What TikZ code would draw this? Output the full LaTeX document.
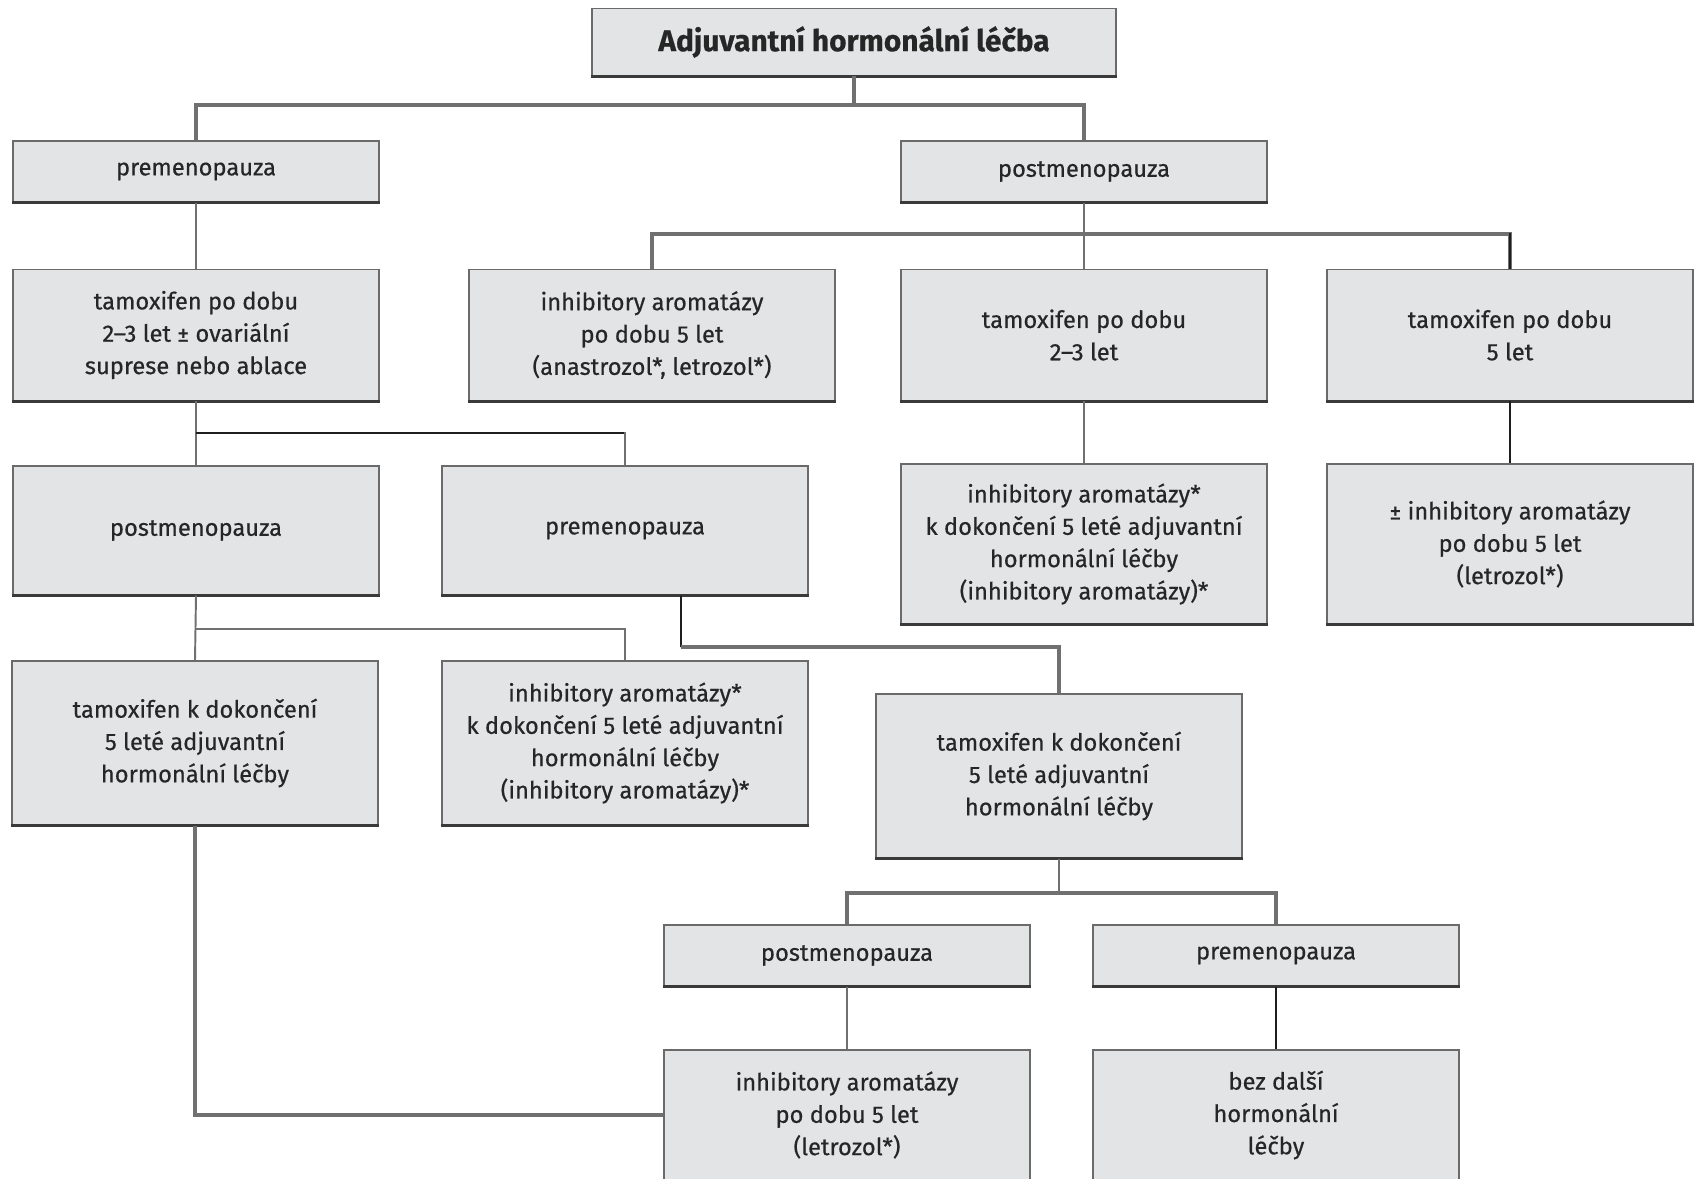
\documentclass[tikz,border=0pt]{standalone}
\usepackage{fontspec}
\setmainfont{Fira Sans}[FakeBold=0.5]
\usetikzlibrary{positioning, calc}
\definecolor{BoxFill}{HTML}{E3E4E6}
\definecolor{BoxLine}{HTML}{6A6A6A}
\definecolor{BoxShade}{HTML}{3A3A3A}
\definecolor{LinkGray}{HTML}{707070}
\definecolor{LinkDark}{HTML}{1E1E1E}
\definecolor{TextDark}{HTML}{262626}
\tikzset{
    stepbox/.style={draw=BoxLine, fill=BoxFill, line width=0.7pt, align=center,
        inner sep=0pt, minimum width=7.32cm, text=TextDark,
        font=\fontsize{13.5}{18.4}\selectfont},
    titlebox/.style={stepbox, minimum width=10.48cm, minimum height=1.34cm,
        font=\fontsize{17}{20}\selectfont\bfseries},
    boxshade/.style={draw=BoxShade, line width=1.8pt},
    link/.style={draw=LinkGray, line width=1.1pt},
    trunk/.style={draw=LinkGray, line width=2.2pt},
    darklink/.style={draw=LinkDark, line width=1.1pt}
}

\begin{document}
\begin{tikzpicture}[x=0.02cm, y=-0.02cm]
    \useasboundingbox (0,0) rectangle (1696,1179);

    % --- boxes ---
    \node[titlebox] (top) at (854,42) {Adjuvantní hormonální léčba};

    \node[stepbox, minimum height=1.22cm] (pre1)  at (196,171.5)  {premenopauza};
    \node[stepbox, minimum height=1.22cm] (post1) at (1084,171.5) {postmenopauza};

    \node[stepbox, minimum height=2.62cm] (tamA)  at (196,335)
        {tamoxifen po dobu\\2–3 let ± ovariální\\suprese nebo ablace};
    \node[stepbox, minimum height=2.62cm] (aiB)   at (652,335)
        {inhibitory aromatázy\\po dobu 5 let\\(anastrozol*, letrozol*)};
    \node[stepbox, minimum height=2.62cm] (tamC)  at (1084,335)
        {tamoxifen po dobu\\2–3 let};
    \node[stepbox, minimum height=2.62cm] (tamD)  at (1510,335)
        {tamoxifen po dobu\\5 let};

    \node[stepbox, minimum height=2.58cm] (postA) at (196,530.5) {postmenopauza};
    \node[stepbox, minimum height=2.58cm] (preB)  at (625,530.5) {premenopauza};
    \node[stepbox, minimum height=3.2cm]  (aiC)   at (1084,544)
        {inhibitory aromatázy*\\k dokončení 5 leté adjuvantní\\hormonální léčby\\(inhibitory aromatázy)*};
    \node[stepbox, minimum height=3.2cm]  (aiD)   at (1510,544)
        {± inhibitory aromatázy\\po dobu 5 let\\(letrozol*)};

    \node[stepbox, minimum height=3.28cm] (tamA2) at (195,743)
        {tamoxifen k dokončení\\5 leté adjuvantní\\hormonální léčby};
    \node[stepbox, minimum height=3.28cm] (aiB2)  at (625,743)
        {inhibitory aromatázy*\\k dokončení 5 leté adjuvantní\\hormonální léčby\\(inhibitory aromatázy)*};
    \node[stepbox, minimum height=3.28cm] (tamM)  at (1059,776)
        {tamoxifen k dokončení\\5 leté adjuvantní\\hormonální léčby};

    \node[stepbox, minimum height=1.22cm] (postL) at (847,955.5)  {postmenopauza};
    \node[stepbox, minimum height=1.22cm] (preR)  at (1276,955.5) {premenopauza};

    \node[stepbox, minimum height=2.6cm]  (aiL)   at (847,1115)
        {inhibitory aromatázy\\po dobu 5 let\\(letrozol*)};
    \node[stepbox, minimum height=2.6cm]  (noneR) at (1276,1115)
        {bez další\\hormonální\\léčby};

    % darker bottom edges
    \foreach \n in {top,pre1,post1,tamA,aiB,tamC,tamD,postA,preB,aiC,aiD,tamA2,aiB2,tamM,postL,preR}
        \draw[boxshade] (\n.south west) -- (\n.south east);

    % --- connectors ---
    \coordinate (j0) at (854,105);
    \draw[trunk] (top.south) -- (j0);
    \draw[trunk] (pre1.north) |- (j0) -| (post1.north);

    \coordinate (j1) at (1084,234);
    \draw[link] (post1.south) -- (tamC.north);
    \draw[trunk] (aiB.north) |- (j1) -| (tamD.north);
    \draw[link] (aiB.north) -- ++(0,-36);
    \draw[darklink] (tamD.north) -- ++(0,-36);

    \draw[link] (pre1.south) -- (tamA.north);
    \draw[link] (tamA.south) -- (postA.north);
    \coordinate (j2) at (196,433);
    \draw[darklink] (j2) -| (preB.north);
    \draw[link] (preB.north) -- ++(0,-33);

    \draw[link] (tamC.south) -- (aiC.north);
    \draw[darklink] (tamD.south) -- (aiD.north);

    \draw[link] (postA.south) -- (tamA2.north);
    \coordinate (j3) at (196,629);
    \draw[draw=LinkGray, line width=0.8pt] (j3) -| (aiB2.north);

    \coordinate (j4) at (681,647);
    \draw[darklink] ([xshift=1.12cm]preB.south) -- (j4);
    \draw[trunk] (j4) -| (tamM.north);
    \draw[link] (tamM.north) -- ++(0,-47);

    \coordinate (j5) at (1059,893);
    \draw[link] (tamM.south) -- (j5);
    \draw[trunk] (postL.north) |- (j5) -| (preR.north);
    \draw[link] (postL.south) -- (aiL.north);
    \draw[darklink] (preR.south) -- (noneR.north);

    \draw[trunk] (tamA2.south) |- (aiL.west);
\end{tikzpicture}
\end{document}
